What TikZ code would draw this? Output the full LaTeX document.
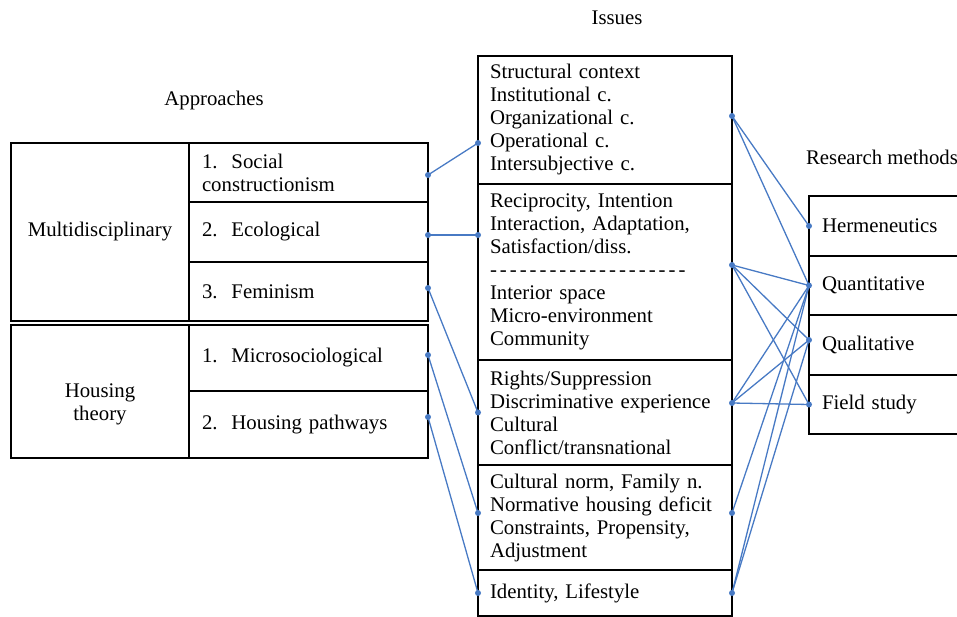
\documentclass[tikz,border=0pt]{standalone}
\usepackage{fontspec}
\setmainfont{Liberation Serif}
\usetikzlibrary{positioning}
\definecolor{linkblue}{RGB}{72,122,196}
\newcommand\dashrow{\foreach \k in {1,...,20}{-\kern3pt}}

\begin{document}
\begin{tikzpicture}[x=1pt,y=-1pt,>=latex]
		\tikzset{
			every node/.style={font=\fontsize{20.8}{23}\selectfont},
			cell/.style={draw,line width=1.5pt,inner ysep=0pt,outer sep=0pt,
				anchor=north west,minimum height=#1},
			grpcell/.style={cell=#1,minimum width=178pt,inner xsep=0pt,align=center},
			apcell/.style={cell=#1,text width=213pt,inner xsep=13pt,align=left},
			iscell/.style={cell=#1,text width=230pt,inner xsep=12pt,align=left},
			mtcell/.style={cell=#1,text width=127pt,inner xsep=13pt,align=left},
			link/.style={linkblue,line width=1.3pt},
			dot/.style={fill=linkblue}
		}
		\useasboundingbox (0,0) rectangle (957,617);
		% approaches
		\node[grpcell=178pt] (multi) at (11,143) {Multidisciplinary};
		\node[grpcell=133pt,label={[align=center,yshift=-13pt]center:Housing\\theory}]
			(housing) at (11,325) {};
		\node[apcell=59pt] (social) at (189,143) {1.\ \ Social\\constructionism};
		\node[apcell=60pt,below=0pt of social] (ecol) {2.\ \ Ecological};
		\node[apcell=59pt,below=0pt of ecol] (femin) {3.\ \ Feminism};
		\node[apcell=66pt] (micro) at (189,325) {1.\ \ Microsociological};
		\node[apcell=67pt,below=0pt of micro] (pathw) {2.\ \ Housing pathways};
		% issues
		\node[iscell=128pt] (iss1) at (478,56)
			{Structural context\\Institutional c.\\Organizational c.\\Operational c.\\Intersubjective c.};
		\node[iscell=176pt,below=0pt of iss1] (iss2)
			{Reciprocity, Intention\\Interaction, Adaptation,\\Satisfaction/diss.\\\dashrow\\
			Interior space\\Micro-environment\\Community};
		\node[iscell=105pt,below=0pt of iss2] (iss3)
			{Rights/Suppression\\Discriminative experience\\Cultural\\Conflict/transnational};
		\node[iscell=105pt,below=0pt of iss3] (iss4)
			{Cultural norm, Family n.\\Normative housing deficit\\Constraints, Propensity,\\Adjustment};
		\node[iscell=46pt,below=0pt of iss4] (iss5) {Identity, Lifestyle};
		% research methods
		\node[mtcell=60pt] (herm) at (809,196) {Hermeneutics};
		\node[mtcell=59pt,below=0pt of herm] (quant) {Quantitative};
		\node[mtcell=60pt,below=0pt of quant] (qual) {Qualitative};
		\node[mtcell=59pt,below=0pt of qual] (field) {Field study};
		% headings
		\node (textappr) at (214,101) {Approaches};
		\node (textissues) at (617,18) {Issues};
		\node (textmeth) at (882,157) {Research methods};
		% link ends
		\coordinate (s1) at ([yshift=-2.5pt]social.east);
		\coordinate (s2) at ([yshift=-3pt]ecol.east);
		\coordinate (s3) at ([yshift=3.5pt]femin.east);
		\coordinate (s4) at ([yshift=3pt]micro.east);
		\coordinate (s5) at ([yshift=7.5pt]pathw.east);
		\coordinate (i1l) at ([yshift=-23pt]iss1.west);
		\coordinate (i2l) at ([yshift=37pt]iss2.west);
		\coordinate (i3l) at (iss3.west);
		\coordinate (i4l) at ([yshift=4.5pt]iss4.west);
		\coordinate (i5l) at (iss5.west);
		\coordinate (i1r) at ([yshift=4pt]iss1.east);
		\coordinate (i2r) at ([yshift=7pt]iss2.east);
		\coordinate (i3r) at ([yshift=9.5pt]iss3.east);
		\coordinate (i4r) at ([yshift=4.5pt]iss4.east);
		\coordinate (i5r) at (iss5.east);
		\coordinate (m1) at (herm.west);
		\coordinate (m2) at (quant.west);
		\coordinate (m3) at ([yshift=5pt]qual.west);
		\coordinate (m4) at (field.west);
		\foreach \a/\b in {s1/i1l,s2/i2l,s3/i3l,s4/i4l,s5/i5l,
				i1r/m1,i1r/m2,i2r/m2,i2r/m3,i2r/m4,i3r/m2,i3r/m3,i3r/m4,
				i4r/m2,i5r/m2,i5r/m3}
			\draw[link] (\a) -- (\b);
		\foreach \p in {s1,s2,s3,s4,s5,i1l,i2l,i3l,i4l,i5l,
				i1r,i2r,i3r,i4r,i5r,m1,m2,m3,m4}
			\fill[dot] (\p) circle (3pt);
\end{tikzpicture}
\end{document}
